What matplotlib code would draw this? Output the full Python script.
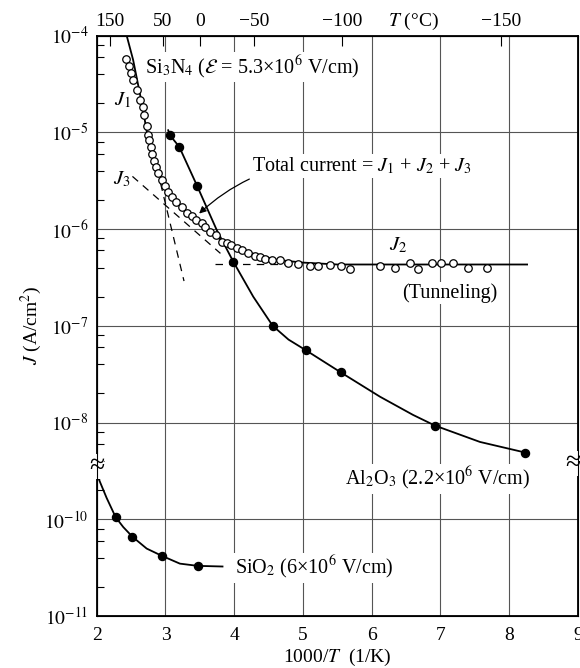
from matplotlib import pyplot as plt
from matplotlib.transforms import blended_transform_factory
import numpy as np

plt.rcParams['font.family'] = ['Liberation Serif', 'DejaVu Serif']
plt.rcParams['mathtext.fontset'] = 'stix'

# Si3N4 measured points (open circles)
si3n4_x = [2.43, 2.47, 2.50, 2.53, 2.58, 2.63, 2.67, 2.69, 2.73, 2.75, 2.765, 2.785,
           2.81, 2.83, 2.86, 2.895, 2.945, 2.99, 3.04, 3.09, 3.16, 3.235, 3.31, 3.38,
           3.45, 3.53, 3.575, 3.65, 3.735, 3.82, 3.89, 3.96, 4.04, 4.12, 4.205, 4.30,
           4.375, 4.45, 4.545, 4.66, 4.785, 4.93, 5.10, 5.22, 5.39, 5.56, 5.68, 6.12,
           6.34, 6.55, 6.67, 6.87, 7.01, 7.18, 7.40, 7.67]
si3n4_j = [5.7e-5, 4.8e-5, 4.1e-5, 3.5e-5, 2.75e-5, 2.15e-5, 1.84e-5, 1.51e-5, 1.15e-5,
           9.3e-6, 8.3e-6, 7.1e-6, 6.0e-6, 5.1e-6, 4.4e-6, 3.76e-6, 3.24e-6, 2.78e-6,
           2.43e-6, 2.15e-6, 1.9e-6, 1.7e-6, 1.45e-6, 1.35e-6, 1.23e-6, 1.15e-6, 1.05e-6,
           9.3e-7, 8.6e-7, 7.4e-7, 7.1e-7, 6.8e-7, 6.3e-7, 6.0e-7, 5.6e-7, 5.25e-7,
           5.1e-7, 4.9e-7, 4.8e-7, 4.8e-7, 4.5e-7, 4.4e-7, 4.1e-7, 4.1e-7, 4.2e-7,
           4.1e-7, 3.9e-7, 4.1e-7, 4.0e-7, 4.5e-7, 3.9e-7, 4.5e-7, 4.5e-7, 4.5e-7,
           4.0e-7, 4.0e-7]

# Si3N4 total current curve (J1 + J2 + J3), traced
total_x = [2.436, 2.53, 2.60, 2.67, 2.73, 2.80, 2.87, 2.95, 3.05, 3.20, 3.36, 3.60,
           3.84, 4.18, 4.62, 5.00, 5.50, 8.26]
total_j = [1.0e-4, 5.6e-5, 3.16e-5, 1.78e-5, 1.0e-5, 6.3e-6, 4.5e-6, 3.2e-6, 2.4e-6,
           1.78e-6, 1.38e-6, 1.0e-6, 7.4e-7, 5.8e-7, 4.8e-7, 4.5e-7, 4.3e-7, 4.3e-7]

# component lines (dashed)
j1_x = [2.93, 3.27]
j1_j = [2.95e-6, 2.9e-7]
j2_x = [3.72, 4.77]
j2_j = [4.3e-7, 4.3e-7]
j3_x = [2.52, 3.80]
j3_j = [3.5e-6, 5.6e-7]

# Al2O3 measured points and traced curve
al2o3_x = [3.066, 3.20, 3.46, 3.987, 4.56, 5.04, 5.55, 6.92, 8.23]
al2o3_j = [9.3e-6, 7.1e-6, 2.8e-6, 4.6e-7, 1.0e-7, 5.6e-8, 3.3e-8, 9.3e-9, 4.9e-9]
al2o3_curve_x = [3.04, 3.066, 3.20, 3.46, 3.745, 3.987, 4.277, 4.56, 4.79, 5.04,
                 5.55, 6.12, 6.60, 6.92, 7.575, 8.23]
al2o3_curve_j = [1.05e-5, 9.3e-6, 7.1e-6, 2.8e-6, 9.8e-7, 4.6e-7, 2.0e-7, 1.0e-7,
                 7.2e-8, 5.6e-8, 3.3e-8, 1.85e-8, 1.2e-8, 9.3e-9, 6.3e-9, 4.9e-9]

# SiO2 measured points and traced curve
sio2_x = [2.01, 2.276, 2.52, 2.945, 3.47]
sio2_j = [2.85e-10, 1.05e-10, 6.6e-11, 4.2e-11, 3.3e-11]
sio2_curve_x = [2.01, 2.048, 2.145, 2.276, 2.387, 2.52, 2.727, 2.945, 3.21, 3.47, 3.83]
sio2_curve_j = [2.85e-10, 2.43e-10, 1.66e-10, 1.05e-10, 8.3e-11, 6.6e-11, 4.98e-11,
                4.2e-11, 3.48e-11, 3.3e-11, 3.25e-11]

# axes ticks
x_ticks = [2, 3, 4, 5, 6, 7, 8, 9]
y_tick_pos = [-4, -5, -6, -7, -8, -9, -10]
y_tick_labels = ['$10^{-4}$', '$10^{-5}$', '$10^{-6}$', '$10^{-7}$', '$10^{-8}$',
                 '$10^{-10}$', '$10^{-11}$']
top_temp_c = ['150', '50', '0', '\u221250', '\u2212100', '\u2212150']
top_temp_x = [2.19, 2.96, 3.50, 4.29, 5.57, 7.88]

BREAK_V = -8.45
FS = 14.5


def yv(j):
    # broken log axis: the decade 1e-10..1e-9 is squeezed out
    v = np.log10(np.asarray(j, dtype=float))
    return np.where(v < -9, v + 1, v)


fig = plt.figure(figsize=(5.8, 6.68), dpi=100)
ax = fig.add_axes([0.1667, 0.0778, 0.8298, 0.869])
ax.set_xlim(2, 9)
ax.set_ylim(-10, -4)

ax.set_xticks(x_ticks)
ax.set_xticklabels([str(t) for t in x_ticks], fontsize=14)
ax.set_yticks(y_tick_pos)
ax.set_yticklabels(y_tick_labels, fontsize=14)

# minor ticks (2, 4, 6, 8 per decade), skipping the hidden decade
minor = []
for d in range(-8, -4):
    minor += [d + np.log10(m) for m in (2, 4, 6, 8)]
minor += [-9 + np.log10(m) for m in (2, 4, 6, 8) if abs(-9 + np.log10(m) - BREAK_V) > 0.05]
minor += [-10 + np.log10(m) for m in (2, 4, 6, 8)]
ax.set_yticks(minor, minor=True)
ax.tick_params(axis='y', which='minor', direction='in', length=5, width=0.8, left=True, right=False)
ax.tick_params(axis='both', which='major', direction='in', length=0, pad=8)
ax.tick_params(axis='y', which='major', pad=6)

ax.grid(True, which='major', color='#555555', lw=0.8)
for s in ax.spines.values():
    s.set_linewidth(1.3)

# top temperature axis
ax_top = ax.twiny()
ax_top.set_xlim(2, 9)
ax_top.set_xticks(top_temp_x)
ax_top.set_xticklabels(top_temp_c, fontsize=14)
ax_top.tick_params(axis='x', direction='in', length=7, width=0.8, pad=4)
trans_top = blended_transform_factory(ax.transData, ax.transAxes)
ax.text(6.61, 1.025, '$T$ (°C)', fontsize=14, ha='center', va='center', transform=trans_top)

# curves
ax.plot(total_x, yv(total_j), color='k', lw=1.3, zorder=3)
ax.plot(si3n4_x, yv(si3n4_j), 'o', ms=5.4, mfc='white', mec='k', mew=0.9, zorder=4)
for xs, js in ((j1_x, j1_j), (j2_x, j2_j), (j3_x, j3_j)):
    ax.plot(xs, yv(js), color='k', lw=0.9, dashes=(6, 5), zorder=3)

ax.plot(al2o3_curve_x, yv(al2o3_curve_j), color='k', lw=1.3, zorder=3)
ax.plot(al2o3_x, yv(al2o3_j), 'o', ms=5.8, color='k', zorder=4)
ax.plot(sio2_curve_x, yv(sio2_curve_j), color='k', lw=1.3, zorder=3)
ax.plot(sio2_x, yv(sio2_j), 'o', ms=5.8, color='k', zorder=4)

box = dict(facecolor='white', edgecolor='none', pad=1)
ax.text(2.70, -4.33, r'Si$_3$N$_4$ ($\mathcal{E}$ = 5.3×10$^6$ V/cm)', fontsize=FS,
        ha='left', va='center', bbox=box, zorder=5)
ax.text(2.38, -4.67, '$J_1$', fontsize=15, ha='center', va='center', zorder=5)
ax.text(2.37, -5.49, '$J_3$', fontsize=15, ha='center', va='center', zorder=5)
ax.text(6.38, -6.17, '$J_2$', fontsize=15, ha='center', va='center', zorder=5)
ax.text(7.14, -6.66, '(Tunneling)', fontsize=FS, ha='center', va='center', bbox=box, zorder=5)
ax.annotate('Total current = $J_1$ + $J_2$ + $J_3$', xy=(3.49, -5.84), xytext=(4.26, -5.35),
            fontsize=FS, ha='left', va='center', bbox=box, zorder=5,
            arrowprops=dict(arrowstyle='-|>', color='k', lw=0.9, shrinkA=2, shrinkB=0,
                            connectionstyle='arc3,rad=0.25', mutation_scale=10))
ax.text(5.61, -8.58, 'Al$_2$O$_3$ (2.2×10$^6$ V/cm)', fontsize=FS, ha='left', va='center',
        bbox=box, zorder=5)
ax.text(4.01, -9.50, 'SiO$_2$ (6×10$^6$ V/cm)', fontsize=FS, ha='left', va='center',
        bbox=box, zorder=5)

# axis break marks
trans_brk = blended_transform_factory(ax.transAxes, ax.transData)
for xb, vb in ((0.0, BREAK_V), (0.99, BREAK_V + 0.03)):
    ax.text(xb, vb, '\u2248', fontsize=20, ha='center', va='center', transform=trans_brk,
            bbox=dict(facecolor='white', edgecolor='none', pad=0), clip_on=False, zorder=6)

ax.set_xlabel('1000/$T$  (1/K)', fontsize=14)
ax.xaxis.set_label_coords(0.5, -0.053)
ax.set_ylabel('$J$ (A/cm$^2$)', fontsize=14)
ax.yaxis.set_label_coords(-0.11, 0.5)

plt.savefig('out.png', dpi=100)
